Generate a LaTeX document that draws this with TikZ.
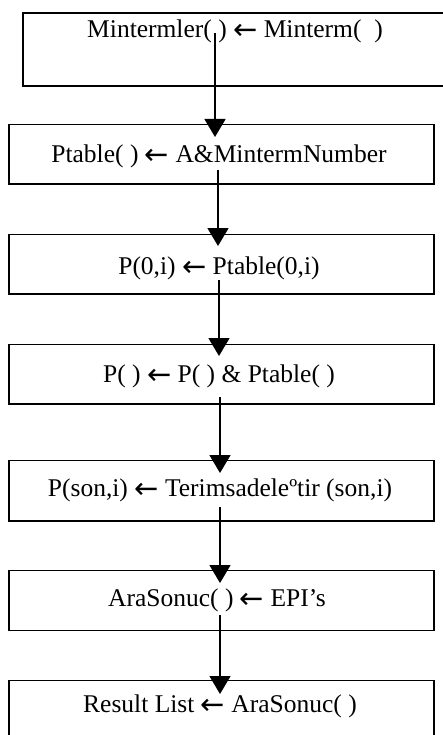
\documentclass[tikz,border=0pt]{standalone}
\usepackage{fontspec}
\setmainfont{Liberation Serif}
\newfontfamily\arrfont{DejaVu Sans}
\newcommand{\larr}{{\raisebox{-2pt}{\fontsize{29}{30}\selectfont\arrfont ←}}}
\usetikzlibrary{arrows.meta}
\begin{document}
\begin{tikzpicture}[x=1pt,y=-1pt,
  boxstyle/.style={draw=black,line width=1.5pt,fill=none},
  lbl/.style={anchor=base,inner sep=0pt,font=\fontsize{25.5}{28}\selectfont},
  arr/.style={line width=1.5pt,-{Triangle[width=21pt,length=18pt]}}]
\useasboundingbox (0,0) rectangle (443,735);
\fill[white] (0,0) rectangle (443,735);
% boxes
\draw[boxstyle] (23,13) rectangle (450,86);
\draw[boxstyle] (9,124.5) rectangle (434,184);
\draw[boxstyle] (9,234.5) rectangle (434,294);
\draw[boxstyle] (9,344.5) rectangle (434,404);
\draw[boxstyle] (9,460.5) rectangle (434,521);
\draw[boxstyle] (9,570.5) rectangle (434,630.5);
\draw[boxstyle] (9,680.5) rectangle (434,750);
% texts
\node[lbl] (t1) at (235,37.5) {Mintermler(\ ) \larr{} Minterm(\ \ )};
\node[lbl] (t2) at (219,162.5) {Ptable(\ ) \larr{} A\&MintermNumber};
\node[lbl] (t3) at (219,274) {P(0,i) \larr{} Ptable(0,i)};
\node[lbl] (t4) at (219,382.5) {P(\ ) \larr{} P(\ ) \& Ptable(\ )};
\node[lbl] (t5) at (220,496.5) {P(son,i) \larr{} Terimsadeleºtir (son,i)};
\node[lbl] (t6) at (217,606) {AraSonuc(\ ) \larr{} EPI’s};
\node[lbl] (t7) at (220,712.5) {Result List \larr{} AraSonuc(\ )};
% arrow start/end points
\coordinate (s1) at (215,33);
\coordinate (e1) at (215,137);
\coordinate (s2) at (218,170);
\coordinate (e2) at (218,246);
\coordinate (s3) at (219,280);
\coordinate (e3) at (219,356);
\coordinate (s4) at (220,397);
\coordinate (e4) at (220,473);
\coordinate (s5) at (220,507);
\coordinate (e5) at (220,583);
\coordinate (s6) at (220,615);
\coordinate (e6) at (220,694);
\draw[arr] (s1) -- (e1);
\draw[arr] (s2) -- (e2);
\draw[arr] (s3) -- (e3);
\draw[arr] (s4) -- (e4);
\draw[arr] (s5) -- (e5);
\draw[arr] (s6) -- (e6);
\end{tikzpicture}
\end{document}
